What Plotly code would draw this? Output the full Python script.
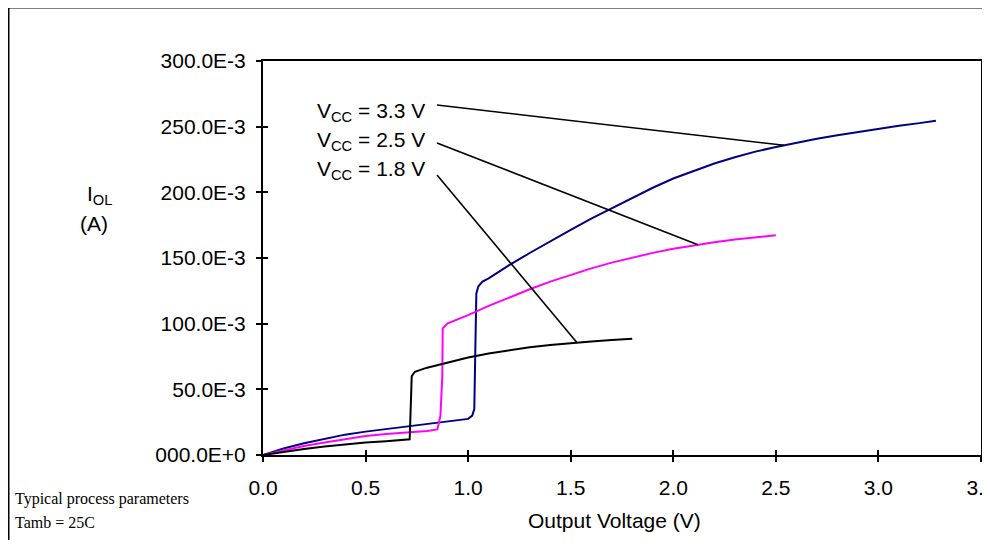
import numpy as np
import plotly.graph_objects as go

# ---------------- data ----------------
v_18 = [0, 0.1, 0.2, 0.3, 0.4, 0.5, 0.6, 0.7, 0.715, 0.725, 0.74, 0.8, 0.9, 1.0,
        1.1, 1.2, 1.3, 1.4, 1.5, 1.6, 1.7, 1.8]
i_18 = [0, 0.0025, 0.0045, 0.0065, 0.0082, 0.0095, 0.0105, 0.0117, 0.012, 0.060,
        0.0634, 0.0665, 0.0705, 0.0742, 0.0773, 0.0799, 0.082, 0.0838, 0.0853,
        0.0865, 0.0876, 0.0886]

v_25 = [0, 0.1, 0.2, 0.3, 0.4, 0.5, 0.6, 0.7, 0.8, 0.85, 0.865, 0.874, 0.876, 0.9,
        1.0, 1.1, 1.2, 1.3, 1.4, 1.5, 1.6, 1.7, 1.8, 1.9, 2.0, 2.1, 2.2, 2.3, 2.4, 2.5]
i_25 = [0, 0.0035, 0.0068, 0.0095, 0.0118, 0.0145, 0.016, 0.0172, 0.0182, 0.0195,
        0.030, 0.060, 0.0964, 0.1002, 0.1065, 0.1135, 0.12, 0.1262, 0.132, 0.1373,
        0.1421, 0.1465, 0.1504, 0.1539, 0.157, 0.1597, 0.162, 0.164, 0.1658, 0.1674]

v_33 = [0, 0.1, 0.2, 0.3, 0.4, 0.5, 0.6, 0.7, 0.8, 0.9, 1.0, 1.02, 1.03, 1.035, 1.04,
        1.05, 1.07, 1.1, 1.2, 1.3, 1.4, 1.5, 1.6, 1.7, 1.8, 1.9, 2.0, 2.1, 2.2, 2.3,
        2.4, 2.5, 2.6, 2.7, 2.8, 2.9, 3.0, 3.1, 3.2, 3.28]
i_33 = [0, 0.005, 0.009, 0.0125, 0.0155, 0.0178, 0.0197, 0.0215, 0.0237, 0.0256,
        0.0275, 0.030, 0.035, 0.080, 0.123, 0.1285, 0.132, 0.1345, 0.1445, 0.1538,
        0.1628, 0.1715, 0.18, 0.188, 0.1955, 0.2035, 0.2105, 0.2165, 0.222, 0.2267,
        0.231, 0.2345, 0.2378, 0.2408, 0.2435, 0.246, 0.2485, 0.2507, 0.2527, 0.2545]

series_labels = ["V<sub>CC</sub> = 3.3 V", "V<sub>CC</sub> = 2.5 V", "V<sub>CC</sub> = 1.8 V"]
series_colors = ["#000080", "#FF00FF", "#000000"]
leader_targets = [2.54, 2.12, 1.53]          # voltage where each leader line meets its curve

y_tickvals = [0, 0.05, 0.10, 0.15, 0.20, 0.25, 0.30]
y_ticktext = ["000.0E+0", "50.0E-3", "100.0E-3", "150.0E-3", "200.0E-3", "250.0E-3", "300.0E-3"]
x_tickvals = [0, 0.5, 1.0, 1.5, 2.0, 2.5, 3.0, 3.5]
x_ticktext = ["0.0", "0.5", "1.0", "1.5", "2.0", "2.5", "3.0", "3.5"]

# ---------------- layout geometry (page pixels; page has an 8px body margin) ----------------
OFF = 8
W, H = 990 - 2 * OFF, 548 - 2 * OFF
L, R, T, B = 263, 981, 61, 455
XMAX, YMAX = 3.5, 0.3


def px(x):
    return (x - L) / (R - L)


def py(y):
    return (B - y) / (B - T)


def dx(x):
    return (x - L) / (R - L) * XMAX


def dy(y):
    return (B - y) / (B - T) * YMAX


FONT = "Liberation Sans, Arial, sans-serif"
SERIF = "Liberation Serif, Times New Roman, serif"

fig = go.Figure()
curves = [(v_33, i_33), (v_25, i_25), (v_18, i_18)]
for (v, i), col in zip(curves, series_colors):
    fig.add_trace(go.Scatter(x=v, y=i, mode="lines", line=dict(color=col, width=2),
                             showlegend=False, hoverinfo="skip"))

# dummy trace for the overlay axes (inside tick halves)
fig.add_trace(go.Scatter(x=[None], y=[None], xaxis="x2", yaxis="y2",
                         showlegend=False, hoverinfo="skip"))

# labels and leader lines
label_y = [110, 139, 168]
leader_start_y = [105, 143, 175]
for lab, ly, sy, tv, (v, i) in zip(series_labels, label_y, leader_start_y, leader_targets, curves):
    fig.add_annotation(text=lab, xref="paper", yref="paper", x=px(427), y=py(ly + 2),
                       xanchor="right", yanchor="middle", showarrow=False,
                       font=dict(family=FONT, size=21, color="black"))
    fig.add_shape(type="line", xref="x", yref="y", x0=dx(437), y0=dy(sy),
                  x1=tv, y1=float(np.interp(tv, v, i)),
                  line=dict(color="black", width=1.6))

# y-axis title
fig.add_annotation(text="I<sub>OL</sub>", xref="paper", yref="paper", x=px(85), y=py(195),
                   xanchor="left", yanchor="middle", showarrow=False,
                   font=dict(family=FONT, size=21, color="black"))
fig.add_annotation(text="(A)", xref="paper", yref="paper", x=px(94), y=py(223),
                   xanchor="center", yanchor="middle", showarrow=False,
                   font=dict(family=FONT, size=21, color="black"))
# x-axis title
fig.add_annotation(text="Output Voltage (V)", xref="paper", yref="paper", x=px(614), y=py(520),
                   xanchor="center", yanchor="middle", showarrow=False,
                   font=dict(family=FONT, size=21, color="black"))
# notes
fig.add_annotation(text="Typical process parameters", xref="paper", yref="paper",
                   x=px(13), y=py(499), xanchor="left", yanchor="middle", showarrow=False,
                   font=dict(family=SERIF, size=16, color="black"))
fig.add_annotation(text="Tamb = 25C", xref="paper", yref="paper",
                   x=px(13), y=py(522), xanchor="left", yanchor="middle", showarrow=False,
                   font=dict(family=SERIF, size=16, color="black"))

# outer frame
fig.add_shape(type="rect", xref="paper", yref="paper", x0=px(8.5), x1=px(1010),
              y0=py(600), y1=py(7.5), line=dict(color="black", width=2), layer="below")

axis_common = dict(showgrid=False, zeroline=False, linecolor="black", linewidth=2,
                   ticks="outside", ticklen=5, tickwidth=2, tickcolor="black",
                   tickfont=dict(family=FONT, size=21, color="black"), mirror=True,
                   ticklabeloverflow="allow", automargin=False)

fig.update_layout(
    width=W, height=H,
    margin=dict(l=L - OFF, r=(W + OFF) - R, t=T - OFF, b=(H + OFF) - B, pad=0,
                autoexpand=False),
    paper_bgcolor="white", plot_bgcolor="white",
    showlegend=False,
    xaxis=dict(range=[0, XMAX], tickvals=x_tickvals, ticktext=x_ticktext,
               ticklabelstandoff=8, **axis_common),
    yaxis=dict(range=[0, YMAX], tickvals=y_tickvals, ticktext=y_ticktext,
               ticklabelstandoff=6, **axis_common),
    xaxis2=dict(overlaying="x", anchor="y", side="bottom", range=[0, XMAX],
                tickvals=x_tickvals, ticks="inside", ticklen=5, tickwidth=2,
                tickcolor="black", showticklabels=False, showgrid=False,
                zeroline=False, showline=False, automargin=False),
    yaxis2=dict(overlaying="y", anchor="x", side="left", range=[0, YMAX],
                tickvals=y_tickvals, ticks="inside", ticklen=5, tickwidth=2,
                tickcolor="black", showticklabels=False, showgrid=False,
                zeroline=False, showline=False, automargin=False),
)

fig.write_html("out.html")
